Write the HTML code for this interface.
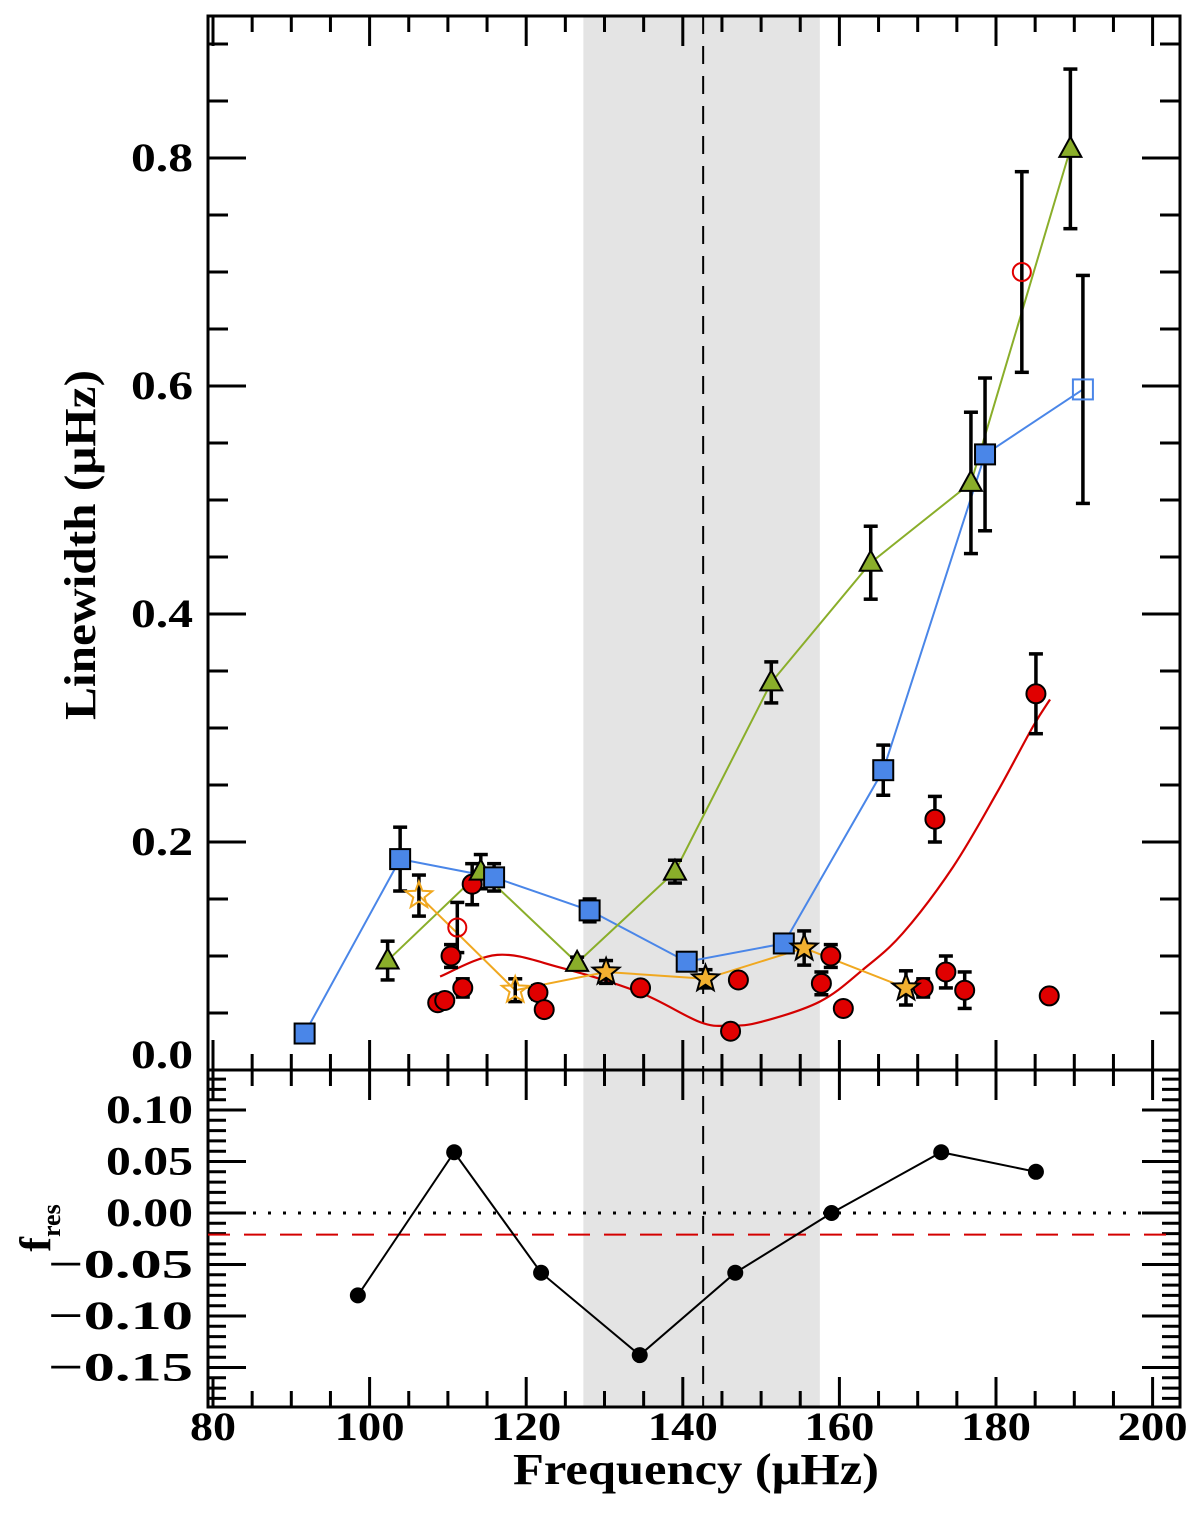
<!DOCTYPE html>
<html><head><meta charset="utf-8"><style>
html,body{margin:0;padding:0;background:#fff}
svg text{font-family:"Liberation Serif",serif;font-weight:bold;fill:#000}
</style></head><body>
<svg id="chart" width="1200" height="1529" viewBox="0 0 1200 1529" xmlns="http://www.w3.org/2000/svg"></svg>
<script>
// ---- data ----
const blueF=[91.7,103.9,115.9,128.1,140.5,152.9,165.6,178.6,191.1];
const blueW=[0.032,0.185,0.169,0.140,0.095,0.111,0.263,0.540,0.597];
const blueE=[0,0.028,0.012,0.010,0.005,0.007,0.022,0.067,0.10];
const blueOpen=[0,0,0,0,0,0,0,0,1];
const greenF=[102.3,114.2,126.5,139.0,151.3,164.0,176.8,189.5];
const greenW=[0.096,0.174,0.094,0.174,0.340,0.445,0.515,0.808];
const greenE=[0.017,0.015,0.005,0.010,0.018,0.032,0.062,0.07];
const redF=[108.7,109.6,110.4,111.9,113.1,121.5,122.3,134.6,146.1,147.1,157.7,158.9,160.5,170.7,172.2,173.6,176.0,185.1,186.8];
const redW=[0.059,0.061,0.100,0.072,0.163,0.068,0.053,0.072,0.034,0.079,0.076,0.100,0.054,0.072,0.220,0.086,0.070,0.330,0.065];
const redE=[0.005,0.005,0.010,0.008,0.018,0.006,0,0,0,0.005,0.010,0.010,0,0.008,0.020,0.014,0.016,0.035,0];
const redOpenF=[111.2,183.3];
const redOpenW=[0.125,0.700];
const redOpenE=[0.022,0.088];
const starF=[106.3,118.6,130.2,142.9,155.5,168.5];
const starW=[0.153,0.070,0.086,0.080,0.107,0.072];
const starE=[0.018,0.010,0.010,0.008,0.015,0.015];
const starOpen=[1,1,0,0,0,0];
const fitF=[109,116.3,124.3,134.5,142.2,146,149.9,157.5,163,168.1,174.5,180.1,184.7,186.9];
const fitW=[0.082,0.101,0.090,0.068,0.042,0.039,0.042,0.060,0.088,0.120,0.178,0.243,0.301,0.325];
const resF=[98.5,110.8,121.9,134.5,146.7,159.0,173.0,185.1];
const resV=[-0.080,0.059,-0.058,-0.138,-0.058,0.000,0.059,0.040];
const resRef=-0.021;
const bandLo=127.3, bandHi=157.5, numax=142.6;
const xTicks=[80,100,120,140,160,180,200];
const yTopTicks=[0.0,0.2,0.4,0.6,0.8];
const yBotTicks=[0.10,0.05,0.00,-0.05,-0.10,-0.15];

// ---- axes ----
const L=208,R=1180,T=16,MID=1070,B=1407;
const X=f=>213+(f-80)*7.83;
const Y=w=>1070-w*1140;
const Yb=v=>1213-v*1030;
const svg=document.getElementById('chart');
const NS='http://www.w3.org/2000/svg';
function mk(tag,attrs,parent){const e=document.createElementNS(NS,tag);for(const k in attrs)e.setAttribute(k,attrs[k]);(parent||svg).appendChild(e);return e;}

let e=mk('rect',{x:X(bandLo),y:T,width:X(bandHi)-X(bandLo),height:B-T,fill:'#e4e4e4'});


e=mk('line',{x1:X(numax),x2:X(numax),y1:T,y2:B,stroke:'#000','stroke-width':2,'stroke-dasharray':'18,12'});



const tg=mk('g',{stroke:'#000','stroke-width':3});


for(let f=80;f<=200;f+=5){
  const maj=(f%20===0), x=X(f), l=maj?30:16;
  mk('line',{x1:x,x2:x,y1:T,y2:T+l},tg);
  mk('line',{x1:x,x2:x,y1:MID,y2:MID-l},tg);
  mk('line',{x1:x,x2:x,y1:MID,y2:MID+l},tg);
  mk('line',{x1:x,x2:x,y1:B,y2:B-l},tg);
}
for(let i=0;i<=18;i++){
  const w=i*0.05, y=Y(w); if(y<T)continue;
  const l=(i%4===0)?38:20;
  mk('line',{x1:L,x2:L+l,y1:y,y2:y},tg);
  mk('line',{x1:R,x2:R-l,y1:y,y2:y},tg);
}
for(let i=-18;i<=13;i++){
  const v=i*0.01, y=Yb(v); if(y<MID||y>B)continue;
  const l=(i%5===0)?38:18;
  mk('line',{x1:L,x2:L+l,y1:y,y2:y},tg);
  mk('line',{x1:R,x2:R-l,y1:y,y2:y},tg);
}
e=mk('rect',{x:L,y:T,width:R-L,height:MID-T,fill:'none',stroke:'#000','stroke-width':3});


e=mk('rect',{x:L,y:MID,width:R-L,height:B-MID,fill:'none',stroke:'#000','stroke-width':3});



xTicks.forEach(f=>{const t=mk('text',{x:X(f),y:1440,'font-size':40,'text-anchor':'middle',textLength:f>=100?70:46,lengthAdjust:'spacingAndGlyphs'});t.textContent=String(f);

});
yTopTicks.forEach(w=>{const t=mk('text',{x:193,y:(w===0?Y(w)-2:Y(w)+13),'font-size':40,'text-anchor':'end',textLength:62,lengthAdjust:'spacingAndGlyphs'});t.textContent=w.toFixed(1);

});
yBotTicks.forEach(v=>{const t=mk('text',{x:193,y:Yb(v)+13,'font-size':40,'text-anchor':'end',textLength:v<0?145:87,lengthAdjust:'spacingAndGlyphs'});t.textContent=(v<0?'\u2212':'')+Math.abs(v).toFixed(2);

});
let t=mk('text',{x:696,y:1484,'font-size':44,'text-anchor':'middle',textLength:366,lengthAdjust:'spacingAndGlyphs'});t.textContent='Frequency (\u03bcHz)';


t=mk('text',{x:0,y:0,'font-size':44,'text-anchor':'middle',textLength:350,lengthAdjust:'spacingAndGlyphs',transform:'translate(95,545) rotate(-90)'});t.textContent='Linewidth (\u03bcHz)';


t=mk('text',{x:0,y:0,'font-size':44,'text-anchor':'middle',transform:'translate(50,1228) rotate(-90)'});
t.innerHTML='f<tspan font-size="26" dy="10">res</tspan>';



function poly(F,W,ys,col,name){const p=mk('polyline',{points:F.map((f,i)=>X(f)+','+ys(W[i])).join(' '),fill:'none',stroke:col,'stroke-width':2});

}
function err(F,W,E,name){const g=mk('g',{stroke:'#000','stroke-width':3.5});


F.forEach((f,i)=>{if(!E[i])return;const x=X(f),y1=Y(W[i]+E[i]),y2=Y(W[i]-E[i]);
mk('line',{x1:x,x2:x,y1:y1,y2:y2},g);mk('line',{x1:x-7,x2:x+7,y1:y1,y2:y1},g);mk('line',{x1:x-7,x2:x+7,y1:y2,y2:y2},g);});}
function starPts(cx,cy,r){let s=[];for(let k=0;k<10;k++){const a=-Math.PI/2+k*Math.PI/5,rr=k%2?r*0.42:r;s.push((cx+rr*Math.cos(a)).toFixed(1)+','+(cy+rr*Math.sin(a)).toFixed(1));}return s.join(' ');}

(function(){const P=fitF.map((f,i)=>[X(f),Y(fitW[i])]);let d='M'+P[0][0]+','+P[0][1];
for(let i=0;i<P.length-1;i++){const p0=P[Math.max(0,i-1)],p1=P[i],p2=P[i+1],p3=P[Math.min(P.length-1,i+2)];
d+=' C'+(p1[0]+(p2[0]-p0[0])/6)+','+(p1[1]+(p2[1]-p0[1])/6)+' '+(p2[0]-(p3[0]-p1[0])/6)+','+(p2[1]-(p3[1]-p1[1])/6)+' '+p2[0]+','+p2[1];}
const c=mk('path',{d:d,fill:'none',stroke:'#d40000','stroke-width':2.2});

})();

poly(blueF,blueW,Y,'#4a86e8','l1-line');
poly(greenF,greenW,Y,'#8aae2a','l2-line');
poly(starF,starW,Y,'#f0a820','l3-line');

err(blueF,blueW,blueE,'l1-errorbars');
err(greenF,greenW,greenE,'l2-errorbars');
err(redF,redW,redE,'l0-errorbars');
err(redOpenF,redOpenW,redOpenE,'l0-open-errorbars');
err(starF,starW,starE,'l3-errorbars');

redF.forEach((f,i)=>{const c=mk('circle',{cx:X(f),cy:Y(redW[i]),r:9.5,fill:'#e00000',stroke:'#000','stroke-width':2});

});
redOpenF.forEach((f,i)=>{const c=mk('circle',{cx:X(f),cy:Y(redOpenW[i]),r:9,fill:'none',stroke:'#e00000','stroke-width':2});

});
greenF.forEach((f,i)=>{const x=X(f),y=Y(greenW[i]);const p=mk('polygon',{points:(x)+','+(y-12)+' '+(x-11)+','+(y+8)+' '+(x+11)+','+(y+8),fill:'#8aae2a',stroke:'#000','stroke-width':2});

});
blueF.forEach((f,i)=>{const x=X(f),y=Y(blueW[i]);const open=blueOpen[i];
const r=mk('rect',{x:x-10,y:y-10,width:20,height:20,fill:open?'none':'#4a86e8',stroke:open?'#4a86e8':'#000','stroke-width':2});

});
starF.forEach((f,i)=>{const open=starOpen[i];const s=mk('polygon',{points:starPts(X(f),Y(starW[i]),14),fill:open?'none':'#f2b030',stroke:open?'#f0a820':'#000','stroke-width':2});

});

e=mk('line',{x1:L,x2:R,y1:Yb(0),y2:Yb(0),stroke:'#000','stroke-width':3,'stroke-dasharray':'3,12'});


e=mk('line',{x1:L,x2:R,y1:Yb(resRef),y2:Yb(resRef),stroke:'#d40000','stroke-width':2,'stroke-dasharray':'22,14'});


poly(resF,resV,Yb,'#000','residual-line');
resF.forEach((f,i)=>{const c=mk('circle',{cx:X(f),cy:Yb(resV[i]),r:8,fill:'#000'});

});
</script>
</body></html>
